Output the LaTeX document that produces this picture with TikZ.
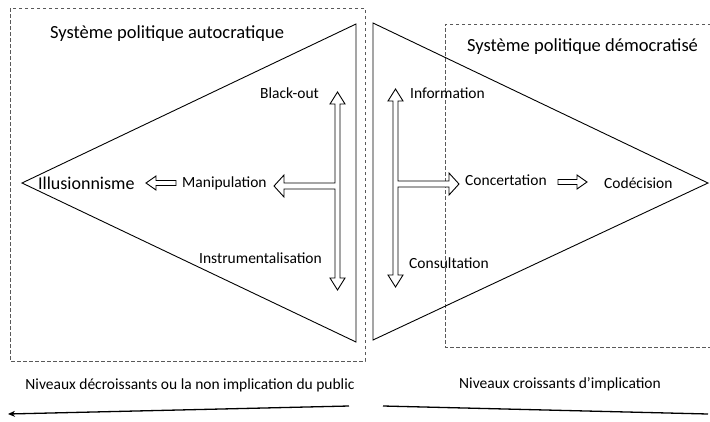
\documentclass[tikz,border=0pt]{standalone}
\usepackage{fontspec}
\setmainfont{Carlito}
\usetikzlibrary{arrows.meta}
\begin{document}
\begin{tikzpicture}[x=1pt,y=-1pt,
  lbl/.style={inner sep=0pt, anchor=west, font=\fontsize{15.5}{18}\selectfont},
  ttl/.style={inner sep=0pt, anchor=west, font=\fontsize{18.5}{22}\selectfont},
  tri/.style={draw=black, line width=0.9pt, line join=miter},
  dbox/.style={draw=black!65, line width=0.9pt, dash pattern=on 3.5pt off 2.5pt},
  blk/.style={draw=black, line width=0.9pt, fill=white, line join=miter},
  base/.style={draw=black, line width=1.3pt}]
\useasboundingbox (0,0) rectangle (710,421);
% dashed frames
\draw[dbox] (10,8) rectangle (365,361);
\draw[dbox] (711,24) -- (445,24) -- (445,347) -- (711,347);
% triangles
\draw[tri] (22,183) -- (356,24) -- (356,342) -- cycle;
\draw[tri] (373,23) -- (373,340) -- (708,183) -- cycle;
% titles
\node[ttl] (auto) at (50,34) {Système politique autocratique};
\node[ttl] (demo) at (467,47) {Système politique démocratisé};
% left block arrow
\draw[blk] (337.5,92) -- (345,104) -- (340,104) -- (340,278) -- (345,278) -- (337.5,290)
  -- (330,278) -- (335,278) -- (335,189) -- (284,189) -- (284,197) -- (274,186)
  -- (284,175) -- (284,183) -- (335,183) -- (335,104) -- (330,104) -- cycle;
% right block arrow
\draw[blk] (395.5,89) -- (403,101) -- (398,101) -- (398,181) -- (449,181) -- (449,173)
  -- (459,184) -- (449,195) -- (449,187) -- (398,187) -- (398,275) -- (403,275)
  -- (395.5,287) -- (388,275) -- (393,275) -- (393,101) -- (388,101) -- cycle;
% small arrows
\draw[blk] (146,183) -- (156,176) -- (156,180.5) -- (176,180.5) -- (176,185.5) -- (156,185.5) -- (156,190) -- cycle;
\draw[blk] (587,182) -- (577,175) -- (577,179.5) -- (558,179.5) -- (558,184.5) -- (577,184.5) -- (577,189) -- cycle;
% labels left
\node[lbl] (blackout) at (260,93) {Black-out};
\node[lbl] (manip) at (182,183) {Manipulation};
\node[ttl, font=\fontsize{18}{22}\selectfont] (illu) at (38,183) {Illusionnisme};
\node[lbl] (instr) at (199,258) {Instrumentalisation};
% labels right
\node[lbl] (info) at (410,93) {Information};
\node[lbl] (conc) at (465,180) {Concertation};
\node[lbl] (codec) at (604,183) {Codécision};
\node[lbl] (consu) at (409,263) {Consultation};
% bottom
\node[lbl, anchor=center] (decr) at (190,385) {Niveaux décroissants ou la non implication du public};
\node[lbl, anchor=center] (croi) at (560,384) {Niveaux croissants d’implication};
\coordinate (lstart) at (349,406);
\coordinate (lend) at (8,414);
\coordinate (rstart) at (383,406);
\coordinate (rend) at (708,414);
\draw[base, -{Stealth[length=7pt,width=6pt]}] (lstart) -- (lend);
\draw[base] (rstart) -- (rend);
\end{tikzpicture}
\end{document}
